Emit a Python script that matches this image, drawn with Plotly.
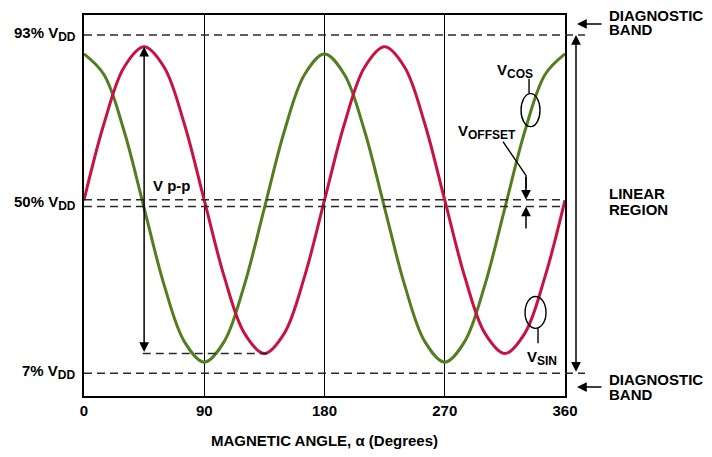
import plotly.graph_objects as go

# ---------------- data ----------------
angle_deg = [0, 15, 30, 45, 60, 75, 90, 105, 120, 135, 150, 165, 180,
             195, 210, 225, 240, 255, 270, 285, 300, 315, 330, 345, 360]
v_sin = [51.0, 70.5, 84.8, 90.0, 84.8, 70.5, 51.0, 31.5, 17.2, 12.0, 17.2, 31.5, 51.0,
         70.5, 84.8, 90.0, 84.8, 70.5, 51.0, 31.5, 17.2, 12.0, 17.2, 31.5, 51.0]
v_cos = [88.2, 82.9, 68.6, 49.0, 29.4, 15.1, 9.8, 15.1, 29.4, 49.0, 68.6, 82.9, 88.2,
         82.9, 68.6, 49.0, 29.4, 15.1, 9.8, 15.1, 29.4, 49.0, 68.6, 82.9, 88.2]
x_ticks = [0, 90, 180, 270, 360]
x_tick_labels = ["0", "90", "180", "270", "360"]
SUB = "<sub><span style='font-size:12px'>%s</span></sub>"
level_labels = ["93% V" + SUB % "DD", "50% V" + SUB % "DD", "7% V" + SUB % "DD"]
level_vals = [93, 50, 7]
band_hi, band_lo = 93, 7
offset_hi, offset_lo = 51.1, 49.4
vpp_angle, vpp_top, vpp_bot = 45, 90.0, 12.0

RED = "#C8123F"
GREEN = "#527E1E"
DASH = "#2A2A2A"
FONT = "Liberation Sans, Arial, sans-serif"

OFF = 8  # default body margin of the html page
W, H = 704, 449
L, R, T, B = 76, 147, 5, 61
PW, PH = W - L - R, H - T - B


def px(xp):
    return (xp - OFF - L) / PW


def py(yp):
    return 1 - (yp - OFF - T) / PH


fig = go.Figure()
fig.add_trace(go.Scatter(x=angle_deg, y=v_cos, mode="lines", line=dict(color=GREEN, width=3, shape="spline"),
                         hoverinfo="skip", showlegend=False))
fig.add_trace(go.Scatter(x=angle_deg, y=v_sin, mode="lines", line=dict(color=RED, width=3, shape="spline"),
                         hoverinfo="skip", showlegend=False))

shapes = []
dash = dict(color=DASH, width=1.4, dash="8px,5px")
for lv in (band_hi, band_lo):
    shapes.append(dict(type="line", xref="paper", yref="y", x0=0, x1=px(585), y0=lv, y1=lv, line=dash))
for lv in (offset_hi, offset_lo):
    shapes.append(dict(type="line", xref="paper", yref="y", x0=0, x1=px(563), y0=lv, y1=lv, line=dash))
shapes.append(dict(type="line", xref="x", yref="y", x0=44, x1=137, y0=vpp_bot, y1=vpp_bot, line=dash))
thin = dict(color="black", width=1.4)
shapes.append(dict(type="circle", xref="x", yref="y", x0=327.1, x1=341.3, y0=69.7, y1=78.1, line=thin))
shapes.append(dict(type="circle", xref="x", yref="y", x0=330.1, x1=345.8, y0=18.4, y1=26.5, line=thin))
shapes.append(dict(type="line", xref="x", yref="y", x0=333.1, x1=333.1, y0=78.1, y1=81.9, line=thin))
shapes.append(dict(type="line", xref="x", yref="y", x0=339.8, x1=339.8, y0=18.4, y1=14.6, line=thin))
shapes.append(dict(type="path", xref="x", yref="y", path="M 313.6 65.9 L 330.8 57.3 L 330.8 54", line=thin))

annotations = []
bold = dict(family=FONT, size=15, color="black", weight="bold")


def label(text, xp, yp, xanchor="center"):
    annotations.append(dict(xref="paper", yref="paper", x=px(xp), y=py(yp), text=text, showarrow=False,
                            xanchor=xanchor, yanchor="middle", font=bold))


for lab, lv in zip(level_labels, level_vals):
    annotations.append(dict(xref="paper", yref="y", x=px(78), y=lv + 0.2, text=lab, showarrow=False,
                            xanchor="right", yanchor="middle", font=bold))
label("V p-p", 172, 184)
label("V" + SUB % "COS", 515, 69)
label("V" + SUB % "SIN", 542, 358)
label("V" + SUB % "OFFSET", 456, 131, "left")
for txt, yp in (("DIAGNOSTIC", 13), ("BAND", 28), ("LINEAR", 192.5), ("REGION", 208.5),
                ("DIAGNOSTIC", 379), ("BAND", 394.5)):
    label(txt, 607, yp, "left")

arrow = dict(showarrow=True, arrowhead=2, arrowsize=1.3, arrowwidth=1.5, arrowcolor="black", text="")
annotations.append(dict(arrow, xref="x", yref="y", axref="x", ayref="y", x=vpp_angle, y=vpp_top,
                        ax=vpp_angle, ay=vpp_bot, arrowside="end+start"))
annotations.append(dict(arrow, xref="paper", yref="y", axref="pixel", ayref="y", x=px(576), y=band_hi,
                        ax=0, ay=band_lo, arrowside="end+start"))
annotations.append(dict(arrow, xref="paper", yref="paper", x=px(577), y=py(22), ax=26, ay=0))
annotations.append(dict(arrow, xref="paper", yref="paper", x=px(577), y=py(387), ax=26, ay=0))
annotations.append(dict(arrow, xref="x", yref="y", axref="x", ayref="y", x=330.8, y=offset_hi,
                        ax=330.8, ay=57.3))
annotations.append(dict(arrow, xref="x", yref="y", axref="x", ayref="y", x=330.8, y=offset_lo,
                        ax=330.8, ay=43.4))

fig.update_layout(
    width=W, height=H, margin=dict(l=L, r=R, t=T, b=B),
    paper_bgcolor="white", plot_bgcolor="white",
    shapes=shapes, annotations=annotations,
    xaxis=dict(range=[0, 360], tickvals=x_ticks, ticktext=x_tick_labels, showgrid=True,
               gridcolor="black", gridwidth=1, zeroline=False, showline=True, linecolor="black",
               linewidth=2, mirror=True, ticks="", tickfont=bold,
               title=dict(text="MAGNETIC ANGLE, α (Degrees)", font=bold, standoff=17)),
    yaxis=dict(range=[1.2, 98.1], showgrid=False, zeroline=False, showline=True, linecolor="black",
               linewidth=2, mirror=True, ticks="", showticklabels=False),
)

fig.write_html("out.html")
